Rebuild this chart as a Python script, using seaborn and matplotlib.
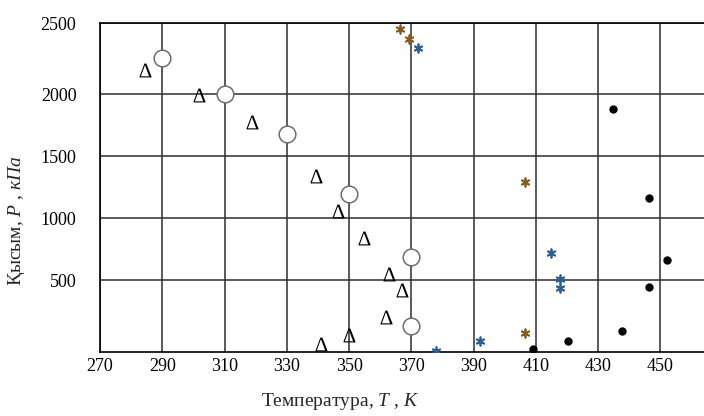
import matplotlib
matplotlib.use("Agg")
import matplotlib.pyplot as plt
import seaborn as sns
import pandas as pd

# data (T in K, P in kPa)
circle_T = [290, 310, 330, 350, 370, 370]
circle_P = [2287, 2000, 1674, 1196, 685, 131]

delta_T = [284.4, 301.9, 318.9, 339.3, 346.5, 354.7, 362.8, 367.0, 361.8, 349.9, 340.9]
delta_P = [2196, 1989, 1774, 1341, 1059, 843, 551, 416, 206, 59, -16]

star_brown_T = [366.4, 369.2, 406.4, 406.4]
star_brown_P = [2521, 2444, 1293, 75]

star_blue_T = [372.0, 415.0, 417.6, 417.6, 392.0, 377.9]
star_blue_P = [2373, 722, 510, 440, 5, -68]

dot_T = [434.8, 446.2, 452.0, 446.2, 437.6, 420.3, 409.0]
dot_P = [1876, 1158, 658, 444, 91, 10, -54]

x_ticks = [270, 290, 310, 330, 350, 370, 390, 410, 430, 450]
y_ticks = [500, 1000, 1500, 2000]
y_top = 2573

sns.set_style("white")
plt.rcParams['font.family'] = ['Liberation Serif', 'DejaVu Serif']
plt.rcParams['mathtext.fontset'] = 'custom'
plt.rcParams['mathtext.rm'] = 'Liberation Serif'
plt.rcParams['mathtext.it'] = 'Liberation Serif:italic'

fig = plt.figure(figsize=(7.04, 4.16), dpi=100)
ax = fig.add_axes([100 / 704, 64 / 416, 604 / 704, 329 / 416])

# ==============================================================================
# series
# ==============================================================================
sns.scatterplot(x=circle_T, y=circle_P, ax=ax, marker='o', s=12 ** 2,
                facecolor='white', edgecolor='#6e6e6e', linewidth=1.1, zorder=3)
sns.scatterplot(x=delta_T, y=delta_P, ax=ax, marker=r'$\Delta$', s=10 ** 2,
                color='black', linewidth=0, zorder=3)
sns.scatterplot(x=star_brown_T, y=star_brown_P, ax=ax, marker=(6, 2, 0), s=6 ** 2,
                color='#8a5a1e', linewidth=1.3, zorder=3)
sns.scatterplot(x=star_blue_T, y=star_blue_P, ax=ax, marker=(6, 2, 0), s=6 ** 2,
                color='#2a5f9e', linewidth=1.3, zorder=3)
sns.scatterplot(x=dot_T, y=dot_P, ax=ax, marker='o', s=6 ** 2,
                color='black', linewidth=0, zorder=3)

# ==============================================================================
# axes
# ==============================================================================
ax.set_xlim(270, 464)
ax.set_ylim(-80, y_top)
ax.set_xticks(x_ticks)
ax.set_xticklabels([str(t) for t in x_ticks])
ax.set_yticks(y_ticks + [y_top])
ax.set_yticklabels([str(t) for t in y_ticks] + ['2500'])
ax.tick_params(axis='both', length=0, labelsize=13, colors='black')
ax.tick_params(axis='y', pad=17)
ax.tick_params(axis='x', pad=4)

ax.grid(True, color='#2e2e2e', linewidth=1.1)
ax.set_axisbelow(True)
for side in ['left', 'bottom', 'top']:
    ax.spines[side].set_color('black')
    ax.spines[side].set_linewidth(1.2)
ax.spines['right'].set_visible(False)

ax.set_xlabel(r'Температура, $T$ , $K$', fontsize=14)
ax.set_ylabel(r'Қысым, $P$ , $кПа$', fontsize=14)
ax.xaxis.set_label_coords(0.397, -0.12)
ax.yaxis.set_label_coords(-0.121, 0.40)

fig.savefig('out.png', dpi=100)
